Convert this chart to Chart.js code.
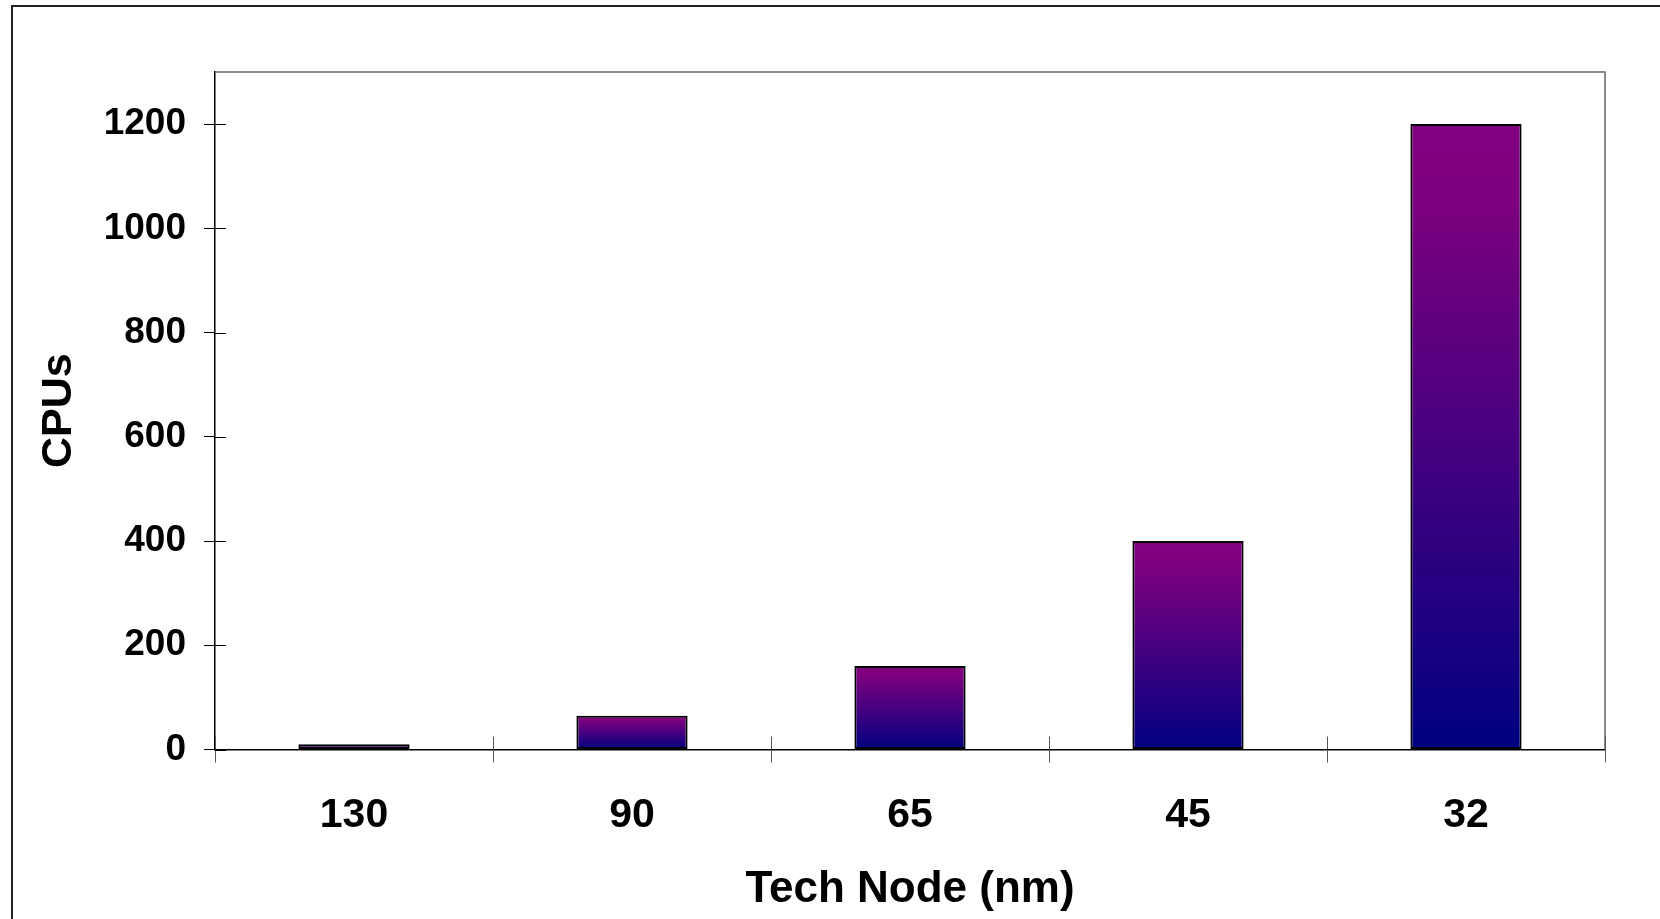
<!DOCTYPE html>
<html>
<head>
<meta charset="utf-8">
<title>CPUs per Tech Node</title>
<script src="https://cdn.jsdelivr.net/npm/chart.js@4.4.0/dist/chart.umd.min.js"></script>
<style>
  html, body { margin: 0; padding: 0; background: #ffffff; }
  #wrap { width: 1660px; height: 919px; position: relative; }
</style>
</head>
<body>
<div id="wrap"><canvas id="chart" width="1660" height="919"></canvas></div>
<script>
// Technology nodes (nm) on the x axis and CPU counts per node
const nodes = ['130', '90', '65', '45', '32'];
const cpus = [10, 65, 160, 400, 1200];
const yTickMin = 0;
const yTickMax = 1300;
const yTickStep = 200;

const FONT = '"Liberation Sans", Arial, Helvetica, sans-serif';
Chart.defaults.font.family = FONT;
Chart.defaults.color = '#000';

// Vertical purple-to-navy fill for each bar, spanning from its top to the baseline
function barGradient(ctx) {
  const chart = ctx.chart;
  const y = chart.scales.y;
  if (!y || ctx.dataIndex === undefined) return '#800080';
  const top = y.getPixelForValue(cpus[ctx.dataIndex]);
  const base = y.getPixelForValue(0);
  if (!isFinite(top) || !isFinite(base) || top === base) return '#800080';
  const g = chart.ctx.createLinearGradient(0, top, 0, base);
  g.addColorStop(0, '#800080');
  g.addColorStop(0.12, '#7d007f');
  g.addColorStop(1, '#000080');
  return g;
}

// Page frame, plot border and tick marks that cross into the plot area
const framePlugin = {
  id: 'frame',
  beforeDraw(chart) {
    const c = chart.ctx;
    c.save();
    c.fillStyle = '#fff';
    c.fillRect(0, 0, chart.width, chart.height);
    c.strokeStyle = '#222';
    c.lineWidth = 2;
    c.strokeRect(12, 6, chart.width + 20, chart.height + 20);
    c.restore();
  },
  afterDraw(chart) {
    const c = chart.ctx;
    const a = chart.chartArea;
    const xs = chart.scales.x;
    const ys = chart.scales.y;
    c.save();
    // top and right edges of the plot box
    c.strokeStyle = '#666';
    c.lineWidth = 1.5;
    c.beginPath();
    c.moveTo(a.left, a.top);
    c.lineTo(a.right, a.top);
    c.lineTo(a.right, a.bottom);
    c.stroke();
    // inner halves of the y ticks
    c.strokeStyle = '#000';
    c.lineWidth = 1;
    ys.ticks.forEach(t => {
      const py = Math.round(ys.getPixelForValue(t.value)) + 0.5;
      c.beginPath();
      c.moveTo(a.left, py);
      c.lineTo(a.left + 11, py);
      c.stroke();
    });
    // inner halves of the x category dividers
    c.strokeStyle = '#555';
    for (let i = 0; i <= nodes.length; i++) {
      const px = Math.round(xs.getPixelForValue(i - 0.5)) + 0.5;
      c.beginPath();
      c.moveTo(px, a.bottom - 13);
      c.lineTo(px, a.bottom);
      c.stroke();
    }
    c.restore();
  }
};

new Chart(document.getElementById('chart'), {
  type: 'bar',
  data: {
    labels: nodes,
    datasets: [{
      label: 'CPUs',
      data: cpus,
      backgroundColor: barGradient,
      borderColor: '#000',
      borderWidth: 2,
      borderSkipped: false,
      barPercentage: 0.4,
      categoryPercentage: 1.0
    }]
  },
  options: {
    responsive: false,
    animation: false,
    devicePixelRatio: 1,
    layout: { padding: { top: 72, right: 55, left: 0, bottom: 0 } },
    plugins: {
      legend: { display: false },
      tooltip: { enabled: false },
      title: { display: false }
    },
    scales: {
      x: {
        offset: true,
        afterFit(scale) { scale.height = 169.5; },
        grid: {
          display: true,
          offset: true,
          drawOnChartArea: false,
          drawTicks: true,
          tickLength: 13,
          color: '#555',
          lineWidth: 1
        },
        border: { display: true, color: '#000', width: 1.5 },
        ticks: {
          color: '#000',
          padding: 29,
          maxRotation: 0,
          font: { family: FONT, size: 41, weight: 'bold' }
        },
        title: {
          display: true,
          text: 'Tech Node (nm)',
          color: '#000',
          padding: { top: 0, bottom: 3 },
          font: { family: FONT, size: 44, weight: 'bold' }
        }
      },
      y: {
        min: yTickMin,
        max: yTickMax,
        afterFit(scale) { scale.width = 215; },
        grid: {
          display: true,
          drawOnChartArea: false,
          drawTicks: true,
          tickLength: 11,
          color: '#000',
          lineWidth: 1
        },
        border: { display: true, color: '#000', width: 1.5 },
        ticks: {
          stepSize: yTickStep,
          includeBounds: false,
          color: '#000',
          padding: 18,
          callback: (v) => String(v),
          font: { family: FONT, size: 37, weight: 'bold' }
        },
        title: {
          display: true,
          text: 'CPUs',
          color: '#000',
          padding: { top: 33, bottom: 0 },
          font: { family: FONT, size: 43, weight: 'bold' }
        }
      }
    }
  },
  plugins: [framePlugin]
});
</script>
</body>
</html>
